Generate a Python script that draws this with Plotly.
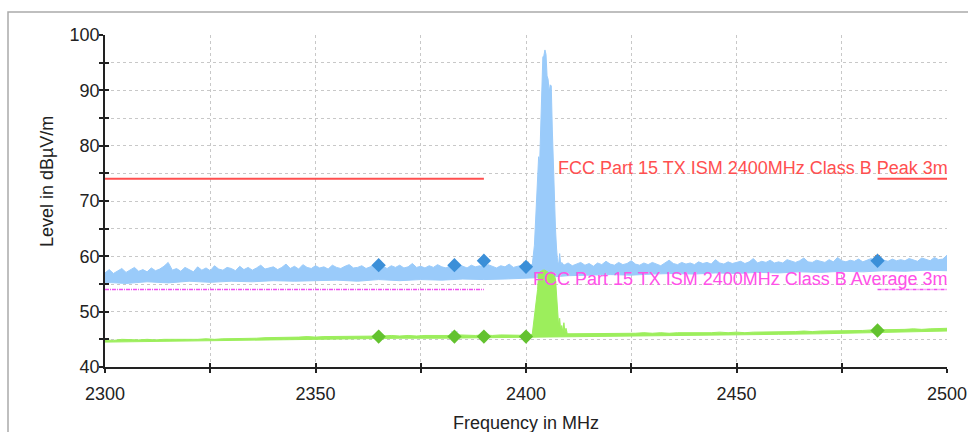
import numpy as np
import plotly.graph_objects as go

# ---------------- data ----------------
# Peak detector: upper envelope, 1 MHz spacing, 2300..2401 MHz
peak_hi_band_a = [
    57.0, 57.6, 56.9, 57.4, 57.8, 57.1, 57.5, 58.0, 57.3, 57.6,
    57.2, 57.9, 57.4, 57.7, 58.2, 58.9, 57.5, 57.8, 57.3, 58.0,
    57.6, 57.2, 58.1, 57.5, 57.9, 57.4, 58.3, 57.7, 57.5, 58.0,
    57.8, 57.4, 58.2, 57.6, 58.0, 57.5, 57.9, 58.4, 57.7, 57.9,
    58.1, 57.6, 58.0, 58.6, 57.8, 58.2, 57.7, 58.5, 58.0, 57.8,
    58.3, 57.9, 58.1, 57.7, 58.4, 58.0, 57.8, 58.2, 58.5, 57.9,
    58.0, 58.3, 57.8, 58.1, 58.6, 57.9, 58.2, 57.8, 58.3, 58.0,
    58.4, 57.9, 58.1, 58.7, 58.0, 58.2, 57.9, 58.3, 58.0, 58.5,
    58.1, 57.9, 58.3, 58.0, 58.6, 58.2, 57.9, 58.4, 58.1, 58.3,
    58.0, 58.5, 58.2, 57.9, 58.3, 58.1, 58.6, 58.0, 58.2, 58.4,
    58.1, 58.3,
]
peak_freq_a = np.arange(2300, 2402)

# Carrier region (peak detector)
carrier_freq = [2401.5, 2402.0, 2402.5, 2402.75, 2403.0, 2403.25, 2403.5, 2403.75,
                2404.0, 2404.25, 2404.5, 2404.75, 2405.0, 2405.25, 2405.5, 2405.75,
                2406.0, 2406.25, 2406.5, 2406.75, 2407.0, 2407.25, 2407.5, 2407.75,
                2408.0, 2408.25, 2408.5]
carrier_peak = [58.6, 62.0, 70.0, 76.0, 78.0, 77.0, 84.0, 91.5,
                96.0, 96.3, 97.3, 96.5, 92.6, 92.0, 89.7, 91.0,
                90.8, 83.0, 76.0, 70.0, 65.0, 61.5, 59.0, 58.6,
                60.5, 58.5, 58.9]

# Peak detector: upper envelope, 1 MHz spacing, 2409..2500 MHz
peak_hi_band_b = [
    58.4, 58.8, 58.3, 58.6, 58.9, 58.4, 58.7, 58.2, 58.8, 58.5, 59.1,
    58.6, 58.4, 58.9, 58.5, 58.7, 59.2, 58.6, 58.4, 58.8, 58.5,
    58.9, 58.6, 58.3, 58.8, 59.3, 58.7, 58.5, 58.9, 58.6, 58.8,
    58.5, 59.0, 58.7, 58.9, 58.6, 59.4, 58.8, 58.6, 59.0, 58.7,
    58.9, 59.1, 58.7, 59.0, 59.6, 58.8, 59.1, 58.9, 59.3, 58.8,
    59.0, 58.8, 59.4, 59.1, 58.9, 59.2, 59.7, 59.0, 58.9, 59.3,
    59.1, 58.9, 59.4, 59.0, 59.8, 59.2, 59.0, 59.3, 59.1, 59.5,
    59.0, 59.3, 59.6, 59.1, 60.0, 59.3, 59.1, 59.5, 59.2, 59.4,
    59.2, 59.6, 59.3, 59.1, 59.7, 59.4, 59.2, 59.8, 59.4, 59.5, 60.2,
]
peak_freq_b = np.arange(2409, 2501)

# Peak detector: lower envelope, 5 MHz spacing
peak_lo_freq = np.arange(2300, 2501, 5)
peak_lo = [55.3, 55.1, 55.4, 55.2, 55.5, 55.3, 55.5, 55.4, 55.6, 55.5,
           55.6, 55.7, 55.5, 55.8, 55.6, 55.8, 55.7, 55.9, 55.8, 55.9,
           56.0, 56.2, 56.5, 56.6, 56.7, 56.6, 56.8, 56.9, 56.8, 57.0,
           56.9, 57.1, 57.0, 57.2, 57.1, 57.3, 57.2, 57.4, 57.3, 57.5,
           57.4]

# Average detector: upper envelope, 2 MHz spacing, 2300..2400 MHz
avg_hi_band_a = [
    44.9, 44.8, 45.0, 44.9, 44.9, 45.0, 44.9, 45.0, 45.0, 44.9,
    45.0, 45.0, 45.1, 45.0, 45.1, 45.1, 45.2, 45.1, 45.2, 45.3,
    45.3, 45.4, 45.3, 45.4, 45.5, 45.4, 45.5, 45.5, 45.6, 45.5,
    45.6, 45.6, 45.5, 45.6, 45.7, 45.6, 45.7, 45.6, 45.7, 45.7,
    45.6, 45.7, 45.8, 45.7, 45.7, 45.8, 45.7, 45.8, 45.8, 45.7,
    45.8,
]
avg_freq_a = np.arange(2300, 2401, 2)

# Carrier region (average detector)
carrier_avg_freq = [2401.0, 2401.5, 2402.0, 2402.5, 2402.75, 2403.0, 2403.5, 2404.0,
                    2404.5, 2405.0, 2405.5, 2406.0, 2406.5, 2407.0, 2407.25, 2407.5,
                    2407.75, 2408.0, 2408.25, 2408.5, 2408.75, 2409.0, 2409.25,
                    2409.5, 2409.75]
carrier_avg = [45.7, 46.0, 49.5, 52.0, 54.0, 57.0, 57.2, 57.5,
               57.5, 57.3, 57.0, 57.2, 56.8, 56.0, 53.0, 49.5,
               47.5, 48.8, 46.5, 47.5, 46.3, 48.0, 46.3,
               47.0, 46.2]

# Average detector: upper envelope, 2 MHz spacing, 2410..2500 MHz
avg_hi_band_b = [
    46.0, 46.0, 46.1, 46.0, 46.1, 46.1, 46.0, 46.1, 46.1, 46.2,
    46.1, 46.2, 46.1, 46.2, 46.2, 46.1, 46.2, 46.2, 46.3, 46.2,
    46.3, 46.2, 46.3, 46.3, 46.4, 46.3, 46.4, 46.4, 46.5, 46.4,
    46.5, 46.5, 46.6, 46.5, 46.6, 46.6, 46.7, 46.7, 46.8, 46.7,
    46.8, 46.9, 46.8, 46.9, 47.0, 47.0,
]
avg_freq_b = np.arange(2410, 2501, 2)

# Average detector: lower envelope, 10 MHz spacing
avg_lo_freq = np.arange(2300, 2501, 10)
avg_lo = [44.5, 44.5, 44.6, 44.7, 44.9, 45.0, 45.1, 45.2, 45.2, 45.3,
          45.3, 45.5, 45.6, 45.7, 45.7, 45.8, 45.9, 46.0, 46.2, 46.3, 46.5]

# Final measurement points
final_freq = [2365.0, 2383.0, 2390.0, 2400.0, 2483.5]
final_peak = [58.4, 58.4, 59.2, 58.1, 59.2]
final_avg = [45.5, 45.5, 45.5, 45.5, 46.6]

# Auxiliary result markers
aux_orange_freq = [2390.0, 2400.0, 2483.5]
aux_orange_level = [59.4, 58.5, 59.8]
aux_blue_freq = [2383.0]
aux_blue_level = [45.9]

# Limit lines (restricted bands)
limit_segments = [(2300.0, 2390.0), (2483.5, 2500.0)]
peak_limit = 74.0
avg_limit = 54.0
peak_limit_label = "FCC Part 15 TX ISM 2400MHz Class B Peak 3m"
avg_limit_label = "FCC Part 15 TX ISM 2400MHz Class B Average 3m"

# Axes
x_tickvals = [2300, 2325, 2350, 2375, 2400, 2425, 2450, 2475, 2500]
x_ticktext = ["2300", "", "2350", "", "2400", "", "2450", "", "2500"]
y_tickvals = [40, 45, 50, 55, 60, 65, 70, 75, 80, 85, 90, 95, 100]
y_ticktext = ["40", "", "50", "", "60", "", "70", "", "80", "", "90", "", "100"]
x_title = "Frequency in MHz"
y_title = "Level in dBµV/m"

# ---------------- figure ----------------
FONT = "Liberation Sans, Arial, Helvetica, sans-serif"
BLUE = "#9ACBFA"
GREEN = "#9CEE5C"

fig = go.Figure()

# Peak trace as an envelope band
pk_x_up = list(peak_freq_a) + carrier_freq + list(peak_freq_b)
pk_y_up = peak_hi_band_a + carrier_peak + peak_hi_band_b
fig.add_trace(go.Scatter(
    x=pk_x_up + list(peak_lo_freq[::-1]),
    y=pk_y_up + peak_lo[::-1],
    mode="lines", fill="toself", fillcolor=BLUE,
    line=dict(color=BLUE, width=1), hoverinfo="skip", showlegend=False,
))

# Average trace as an envelope band
av_x_up = list(avg_freq_a) + carrier_avg_freq + list(avg_freq_b)
av_y_up = avg_hi_band_a + carrier_avg + avg_hi_band_b
fig.add_trace(go.Scatter(
    x=av_x_up + list(avg_lo_freq[::-1]),
    y=av_y_up + avg_lo[::-1],
    mode="lines", fill="toself", fillcolor=GREEN,
    line=dict(color=GREEN, width=1), hoverinfo="skip", showlegend=False,
))

# Limit lines
for x0, x1 in limit_segments:
    fig.add_trace(go.Scatter(
        x=[x0, x1], y=[peak_limit, peak_limit], mode="lines",
        line=dict(color="#FF4F4F", width=2), hoverinfo="skip", showlegend=False,
    ))
    fig.add_trace(go.Scatter(
        x=[x0, x1], y=[avg_limit, avg_limit], mode="lines",
        line=dict(color="#F050F0", width=1.4, dash="4px,1px,1px,1px"),
        hoverinfo="skip", showlegend=False,
    ))

# Auxiliary markers
fig.add_trace(go.Scatter(
    x=aux_orange_freq, y=aux_orange_level, mode="markers",
    marker=dict(symbol="asterisk-open", size=6, color="#F08030", line=dict(width=1, color="#F08030")),
    hoverinfo="skip", showlegend=False,
))
fig.add_trace(go.Scatter(
    x=aux_blue_freq, y=aux_blue_level, mode="markers",
    marker=dict(symbol="asterisk-open", size=6, color="#2040E0", line=dict(width=1, color="#2040E0")),
    hoverinfo="skip", showlegend=False,
))

# Final measurement diamonds
fig.add_trace(go.Scatter(
    x=final_freq, y=final_peak, mode="markers",
    marker=dict(symbol="diamond", size=11, color="#3B8FD8", line=dict(width=0)),
    hoverinfo="skip", showlegend=False,
))
fig.add_trace(go.Scatter(
    x=final_freq, y=final_avg, mode="markers",
    marker=dict(symbol="diamond", size=11, color="#63C22F", line=dict(width=0)),
    hoverinfo="skip", showlegend=False,
))

# Overlay axes carry the inner half of the crossing tick marks
fig.add_trace(go.Scatter(x=[], y=[], xaxis="x2", yaxis="y2", showlegend=False))

# Limit labels
fig.add_annotation(
    x=2500, y=peak_limit, xref="x", yref="y", xanchor="right", yanchor="bottom",
    text=peak_limit_label, showarrow=False, xshift=3, yshift=-1,
    font=dict(family=FONT, size=18, color="#FF4F4F"),
)
fig.add_annotation(
    x=2500, y=avg_limit, xref="x", yref="y", xanchor="right", yanchor="bottom",
    text=avg_limit_label, showarrow=False, xshift=3, yshift=-1,
    font=dict(family=FONT, size=18, color="#FF50E8"),
)

# Axis titles
fig.add_annotation(
    x=-0.0689, y=0.56, xref="paper", yref="paper", text=y_title, textangle=-90,
    showarrow=False, xanchor="center", yanchor="middle",
    font=dict(family=FONT, size=18, color="#222222"),
)
fig.add_annotation(
    x=0.5, y=-0.168, xref="paper", yref="paper", text=x_title,
    showarrow=False, xanchor="center", yanchor="middle",
    font=dict(family=FONT, size=18, color="#222222"),
)

# Outer frame
fig.add_shape(
    type="rect", xref="paper", yref="paper",
    x0=-0.1152, x1=1.05, y0=-0.25, y1=1.0693,
    line=dict(color="#ABABAB", width=1.5), fillcolor="rgba(0,0,0,0)", layer="below",
)

grid = dict(showgrid=True, gridcolor="#C8C8C8", griddash="dot", gridwidth=1)
fig.update_layout(
    width=968, height=432,
    margin=dict(l=105, r=21, t=35, b=65, autoexpand=False),
    paper_bgcolor="white", plot_bgcolor="white",
    font=dict(family=FONT, size=18, color="#222222"),
    hovermode=False,
    xaxis=dict(
        range=[2300, 2500], tickmode="array", tickvals=x_tickvals, ticktext=x_ticktext,
        ticks="outside", ticklen=4, tickwidth=1.5, tickcolor="#222222",
        showline=True, linecolor="#222222", linewidth=1.5, zeroline=False,
        ticklabelstandoff=6, ticklabeloverflow="allow", automargin=False, **grid,
    ),
    yaxis=dict(
        range=[40, 100], tickmode="array", tickvals=y_tickvals, ticktext=y_ticktext,
        ticks="outside", ticklen=4, tickwidth=1.5, tickcolor="#222222",
        showline=True, linecolor="#222222", linewidth=1.5, zeroline=False,
        ticklabelstandoff=-4, ticklabeloverflow="allow", automargin=False, **grid,
    ),
    xaxis2=dict(
        overlaying="x", anchor="y2", range=[2300, 2500], tickmode="array",
        tickvals=x_tickvals, showticklabels=False, ticks="inside", ticklen=4,
        tickwidth=1.5, tickcolor="#222222", showgrid=False, showline=False, zeroline=False,
    ),
    yaxis2=dict(
        overlaying="y", anchor="x2", side="left", range=[40, 100], tickmode="array",
        tickvals=y_tickvals, showticklabels=False, ticks="inside", ticklen=4,
        tickwidth=1.5, tickcolor="#222222", showgrid=False, showline=False, zeroline=False,
    ),
)

fig.write_html("out.html")
